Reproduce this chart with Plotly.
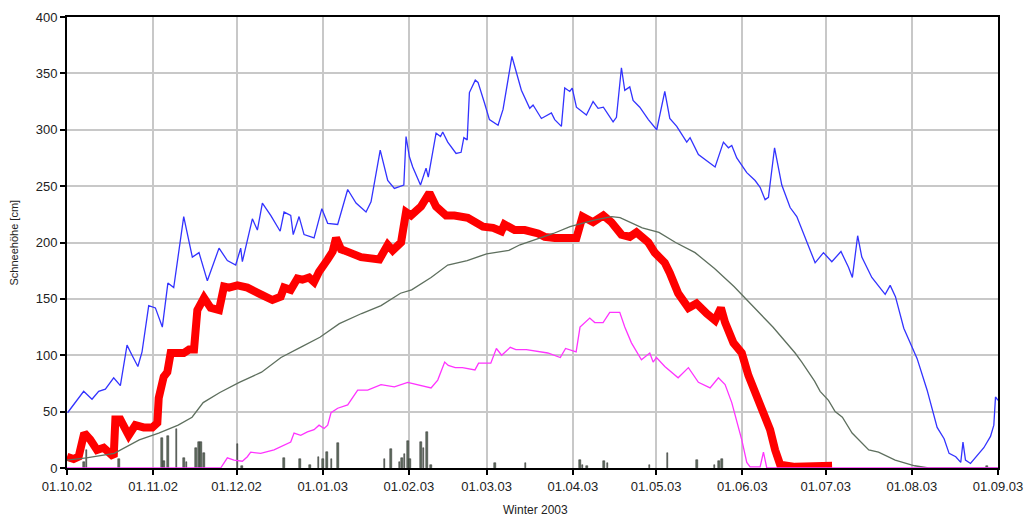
import datetime as dt
import plotly.graph_objects as go

BASE = dt.datetime(2002, 10, 1)

# ---- data (day offset from 01.10.2002, value in cm) ----
blue_days = [0.2, 6.0, 9.0, 11.4, 13.8, 16.8, 19.2, 21.6, 23.4, 25.5, 27.0, 29.4, 31.8, 34.3, 36.3,
             38.4, 42.0, 45.1, 47.5, 50.5, 54.7, 57.7, 60.7, 62.5, 63.1, 66.7, 68.5, 70.3, 73.3,
             76.7, 78.1, 80.5, 81.4, 83.5, 85.3, 88.9, 91.7, 93.8, 97.4, 101.0, 104.0, 107.6,
             109.4, 112.7, 115.4, 117.8, 121.2, 122.0, 123.2, 124.4, 127.2, 129.2, 130.0, 132.8,
             134.4, 135.2, 137.0, 140.0, 141.8, 142.8, 144.0, 144.8, 146.9, 147.9, 150.2, 152.0,
             155.1, 156.9, 160.1, 161.1, 163.5, 166.5, 167.7, 170.7, 174.3, 175.5, 177.9, 179.1,
             180.9, 181.8, 183.3, 186.9, 189.3, 191.1, 193.0, 196.5, 197.7, 199.5, 200.7, 202.5,
             203.7, 206.1, 209.2, 212.2, 215.1, 216.9, 219.4, 223.0, 224.2, 227.2, 230.8, 233.2,
             236.2, 238.0, 239.2, 241.0, 244.6, 247.6, 249.4, 251.2, 252.4, 254.6, 257.2, 260.2,
             262.6, 266.2, 269.2, 272.2, 275.2, 278.5, 281.2, 282.6, 284.5, 286.0, 289.6, 294.4,
             296.2, 298.1, 301.1, 304.1, 305.9, 309.5, 313.1, 315.6, 317.4, 319.8, 321.6, 322.4,
             323.3, 325.1, 326.9, 329.9, 332.3, 333.5, 334.1, 335.0]
blue_vals = [49, 68, 61, 68, 70, 80, 73, 109, 100, 90, 103, 144, 142, 125, 164,
             160, 223, 187, 191, 166, 195, 184, 180, 195, 183, 221, 211, 235, 224,
             210, 227, 224, 207, 223, 207, 204, 230, 217, 216, 247, 235, 227,
             236, 282, 255, 248, 251, 294, 276, 267, 251, 266, 258, 297,
             294, 298, 289, 279, 280, 293, 291, 333, 344, 342, 324, 309,
             304, 318, 365, 356, 335, 319, 322, 310, 315, 309, 303, 337,
             334, 337, 320, 313, 325, 319, 320, 307, 311, 355, 335, 338,
             326, 320, 309, 300, 334, 310, 303, 289, 293, 278, 271, 267,
             289, 284, 286, 275, 262, 255, 249, 238, 240, 284, 251, 231,
             223, 200, 182, 191, 183, 192, 178, 169, 206, 187, 169, 154,
             162, 152, 124, 107, 97, 69, 36, 26, 13, 10, 5, 23,
             7, 4, 9, 18, 28, 38, 63, 60]

red_days = [0.0, 2.4, 4.2, 6.2, 8.4, 10.8, 13.2, 15.6, 16.8, 17.4, 19.2, 22.2, 24.6, 27.6, 30.7,
            32.5, 33.0, 34.8, 36.1, 37.3, 39.1, 42.0, 43.9, 45.7, 46.9, 49.3, 51.7, 54.7, 56.5,
            58.3, 61.3, 64.9, 69.7, 73.9, 76.9, 78.1, 80.5, 82.9, 84.7, 87.1, 88.9, 90.7, 93.8,
            95.6, 96.8, 98.6, 99.7, 105.8, 112.4, 115.4, 117.2, 120.2, 122.0, 123.8, 127.4,
            130.4, 132.8, 136.4, 139.4, 144.2, 149.7, 153.3, 156.3, 157.4, 161.1, 164.7, 169.5,
            171.9, 175.5, 183.3, 185.5, 189.3, 193.0, 195.9, 199.5, 202.5, 204.9, 209.2, 211.5,
            215.1, 216.9, 219.9, 223.6, 226.5, 230.2, 233.2, 235.3, 236.8, 239.8, 242.8, 245.2,
            248.8, 251.2, 253.0, 254.8, 256.6, 262.0, 275.3]
red_vals = [10, 8, 10, 31, 25, 16, 18, 13, 10, 43, 43, 29, 38, 36, 36,
            40, 62, 81, 85, 102, 102, 102, 105, 105, 140, 151, 142, 140, 161,
            160, 162, 160, 154, 149, 152, 160, 158, 168, 167, 169, 165, 174, 185,
            192, 204, 194, 193, 187, 185, 198, 193, 200, 227, 224, 232,
            244, 232, 224, 224, 222, 214, 213, 210, 216, 211, 211, 208,
            205, 204, 204, 223, 218, 224, 218, 207, 205, 209, 200, 191,
            182, 173, 155, 142, 146, 137, 131, 142, 129, 111, 102, 82,
            58, 43, 34, 16, 3, 1, 2]

gray_days = [0, 7, 17, 26, 33, 40, 45, 49, 55, 62, 70, 77, 84, 91, 98, 106, 113, 120, 124, 131,
             137, 144, 151, 159, 163, 171, 175, 181, 187, 190, 196, 199, 207, 213, 219, 226,
             233, 240, 247, 254, 262, 264.4, 269, 271, 274, 276.4, 279, 282.5, 288.5, 292,
             298, 305, 310, 335]
gray_vals = [7, 9, 13, 25, 31, 38, 45, 58, 67, 76, 85, 98, 107, 116, 128, 137, 144, 155, 158, 169,
             180, 184, 190, 193, 198, 205, 208, 214, 218, 220, 223, 222, 213, 209, 200, 191,
             177, 161, 143, 125, 102, 94, 77, 68, 60, 50, 45, 31, 16, 14,
             7, 2, 0, 0]

pink_days = [0, 55.3, 57.7, 60.1, 63.1, 64.9, 66.1, 69.7, 74.5, 76.9, 80.5, 81.7, 84.1, 86.5,
             88.9, 90.7, 92.5, 93.8, 95.0, 97.4, 101.0, 104.6, 108.2, 113.0, 117.8, 122.6,
             126.2, 131.0, 133.4, 135.9, 137.2, 139.7, 142.3, 146.8, 148.1, 152.5, 154.5,
             156.4, 159.5, 161.5, 165.3, 173.0, 177.5, 179.4, 183.2, 184.6, 188.1, 189.9,
             192.9, 195.3, 198.9, 200.7, 203.1, 206.7, 209.7, 210.9, 212.1, 215.1, 219.9,
             223.6, 227.2, 231.4, 234.4, 236.8, 239.2, 242.8, 244.6, 245.8, 249.4, 250.6,
             251.8, 335]
pink_vals = [0, 0, 9, 7, 6, 10, 14, 13, 16, 19, 23, 31, 29, 32,
             34, 38, 35, 38, 49, 53, 56, 69, 69, 74, 72, 76,
             74, 71, 78, 94, 91, 89, 89, 87, 93, 93, 106,
             100, 107, 105, 105, 102, 98, 106, 103, 125, 133, 129,
             129, 138, 138, 125, 111, 96, 102, 94, 98, 90, 80,
             89, 76, 71, 80, 74, 58, 25, 5, 1, 1, 14,
             0, 0]

precip_days = [6, 7, 18.6, 34.3, 35, 36.3, 39.4, 42, 43, 46.3, 47.5, 48.3, 49.3, 61.3, 63,
               78.1, 83.9, 87.5, 90.5, 92, 93.5, 95.2, 97.6, 114.2, 116.6, 119.6, 120.5, 121.4,
               122.6, 123.3, 127.4, 128.3, 129.5, 131, 154, 165, 184.6, 185.5, 187, 193.2,
               194.5, 209.6, 216.1, 226.7, 233, 234.5, 235.6, 331]
precip_vals = [5, 16, 8, 27, 6, 28, 35, 9, 5, 18, 23, 23, 13, 21, 2,
               9, 8, 3, 10, 8, 14, 8, 22, 8, 17, 5, 9, 12,
               24, 8, 23, 18, 32, 3, 4, 4, 7, 3, 2, 6,
               4, 3, 13, 7, 3, 6, 8, 2]

tick_dates = ["2002-10-01", "2002-11-01", "2002-12-01", "2003-01-01", "2003-02-01", "2003-03-01",
              "2003-04-01", "2003-05-01", "2003-06-01", "2003-07-01", "2003-08-01", "2003-09-01"]
tick_labels = ["01.10.02", "01.11.02", "01.12.02", "01.01.03", "01.02.03", "01.03.03",
               "01.04.03", "01.05.03", "01.06.03", "01.07.03", "01.08.03", "01.09.03"]
y_ticks = [0, 50, 100, 150, 200, 250, 300, 350, 400]


def to_dates(days):
    return [BASE + dt.timedelta(days=d) for d in days]


fig = go.Figure()

fig.add_trace(go.Bar(x=to_dates(precip_days), y=precip_vals, width=0.6 * 86400000,
                     marker=dict(color="#5f6e5f", line=dict(color="#2a2a2a", width=0.5)),
                     showlegend=False))
fig.add_trace(go.Scatter(x=to_dates(red_days), y=red_vals, mode="lines",
                         line=dict(color="#ff0000", width=8), showlegend=False))
fig.add_trace(go.Scatter(x=to_dates(gray_days), y=gray_vals, mode="lines",
                         line=dict(color="#5e6f5e", width=1.3), showlegend=False))
fig.add_trace(go.Scatter(x=to_dates(pink_days), y=pink_vals, mode="lines",
                         line=dict(color="#ff33ff", width=1.3), showlegend=False))
fig.add_trace(go.Scatter(x=to_dates(blue_days), y=blue_vals, mode="lines",
                         line=dict(color="#3333ff", width=1.3), showlegend=False))

font = "Liberation Sans, Arial, sans-serif"
fig.update_layout(
    width=1026, height=520,
    margin=dict(l=67, r=28, t=17, b=52, autoexpand=False),
    paper_bgcolor="white", plot_bgcolor="white",
    font=dict(family=font, size=13, color="#222222"),
    bargap=0,
    xaxis=dict(type="date", range=[BASE, dt.datetime(2003, 9, 1)], automargin=False,
               tickvals=tick_dates, ticktext=tick_labels,
               showgrid=True, gridcolor="#c8c8c8", gridwidth=1.5,
               showline=True, linecolor="black", linewidth=2, mirror=True,
               ticks="outside", ticklen=5, tickcolor="black", tickwidth=1.5,
               zeroline=False),
    yaxis=dict(range=[0, 400], tickvals=y_ticks, automargin=False,
               showgrid=True, gridcolor="#c8c8c8", gridwidth=1.5,
               showline=True, linecolor="black", linewidth=2, mirror=True,
               ticks="outside", ticklen=5, tickcolor="black", tickwidth=1.5,
               zeroline=False),
    annotations=[
        dict(text="Winter 2003", xref="paper", yref="paper", x=0.503, y=-0.094,
             xanchor="center", yanchor="middle", showarrow=False,
             font=dict(size=12, color="#222222")),
        dict(text="Schneehöhe [cm]", xref="paper", yref="paper", x=-0.058, y=0.5,
             xanchor="center", yanchor="middle", showarrow=False, textangle=-90,
             font=dict(size=11, color="#222222")),
    ],
)

fig.write_html("out.html",
               config={"displayModeBar": False},
               post_script="document.body.style.margin='0';document.body.style.overflow='hidden';")
